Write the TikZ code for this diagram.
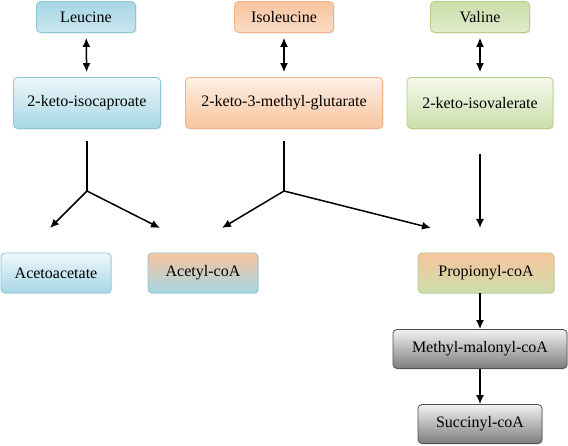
\documentclass[tikz,border=0pt]{standalone}
\usepackage{fontspec}
\setmainfont{Liberation Serif}
\usepackage{tikz}
\usetikzlibrary{arrows.meta,shadows}

\definecolor{bluetop}{HTML}{EEF8FB}
\definecolor{bluebot}{HTML}{A6D6E4}
\definecolor{blueline}{HTML}{8CC6D8}
\definecolor{orangetop}{HTML}{FDF0E6}
\definecolor{orangebot}{HTML}{F8C49E}
\definecolor{orangeline}{HTML}{F2B287}
\definecolor{greentop}{HTML}{F4F8EC}
\definecolor{greenbot}{HTML}{CCDEAA}
\definecolor{greenline}{HTML}{B6CF88}
\definecolor{graytop}{HTML}{F2F2F2}
\definecolor{graybot}{HTML}{7C7C7C}
\definecolor{grayline}{HTML}{505050}

\tikzset{
  box/.style={rounded corners=4pt, line width=0.8pt, inner sep=0pt,
    font=\fontsize{16}{19}\selectfont,
    drop shadow={opacity=0.2, shadow xshift=1.2pt, shadow yshift=-1.2pt}},
  bluebox/.style={box, draw=blueline, top color=bluetop, bottom color=bluebot},
  orangebox/.style={box, draw=orangeline, top color=orangetop, bottom color=orangebot},
  greenbox/.style={box, draw=greenline, top color=greentop, bottom color=greenbot},
  graybox/.style={box, draw=grayline, top color=graytop, bottom color=graybot},
  flow/.style={line width=1.5pt, >={Latex[length=9pt,width=8pt]}},
}

\begin{document}
\begin{tikzpicture}[x=1pt,y=-1pt]
    \useasboundingbox (0,0) rectangle (568,446);

    % amino acids
    \node[bluebox, top color=bluebot, bottom color=bluebot!60, minimum width=99pt, minimum height=31pt] (leu) at (86,17) {Leucine};
    \node[orangebox, top color=orangebot, bottom color=orangebot!60, minimum width=99pt, minimum height=31pt] (ile) at (284,17) {Isoleucine};
    \node[greenbox, top color=greenbot, bottom color=greenbot!60, minimum width=99pt, minimum height=31pt] (val) at (480,17) {Valine};

    % keto acids
    \node[bluebox, minimum width=147pt, minimum height=51pt] (kic) at (87,103) {2-keto-isocaproate};
    \node[orangebox, minimum width=197pt, minimum height=51pt] (kmg) at (284,103) {2-keto-3-methyl-glutarate};
    \node[greenbox, minimum width=146pt, minimum height=51pt] (kiv) at (480,103) {2-keto-isovalerate};

    % products
    \node[bluebox, minimum width=110pt, minimum height=40pt] (acac) at (56,273) {Acetoacetate};
    \node[box, draw=blueline, top color=orangebot, bottom color=bluebot, minimum width=110pt, minimum height=40pt] (acoa) at (203,273) {Acetyl-coA};
    \node[box, draw=greenline, top color=orangebot, bottom color=greenbot, minimum width=136pt, minimum height=40pt] (pcoa) at (486,273) {Propionyl-coA};
    \node[graybox, minimum width=174pt, minimum height=39pt] (mmcoa) at (480,349) {Methyl-malonyl-coA};
    \node[graybox, minimum width=124pt, minimum height=39pt] (scoa) at (480,424) {Succinyl-coA};

    % branch points and free arrow ends
    \coordinate (j1) at (87,191);
    \coordinate (j2) at (284,191);
    \coordinate (t1) at (50,228);
    \coordinate (t2) at (160,228);
    \coordinate (t3) at (222,228);
    \coordinate (t4) at (431,228);
    \coordinate (t5) at (480,228);

    \draw[flow,<->,shorten <=5pt,shorten >=5pt] (leu) -- (kic);
    \draw[flow,<->,shorten <=5pt,shorten >=5pt] (ile) -- (kmg);
    \draw[flow,<->,shorten <=5pt,shorten >=5pt] (val) -- (kiv);

    \draw[flow,shorten <=12pt] (kic) -- (j1);
    \draw[flow,->] (j1) -- (t1);
    \draw[flow,->] (j1) -- (t2);
    \draw[flow,shorten <=12pt] (kmg) -- (j2);
    \draw[flow,->] (j2) -- (t3);
    \draw[flow,->] (j2) -- (t4);
    \draw[flow,->,shorten <=25pt] (kiv.south) -- (t5);

    \draw[flow,->] (mmcoa.north |- pcoa.south) -- (mmcoa.north);
    \draw[flow,->] (mmcoa) -- (scoa);
\end{tikzpicture}
\end{document}
